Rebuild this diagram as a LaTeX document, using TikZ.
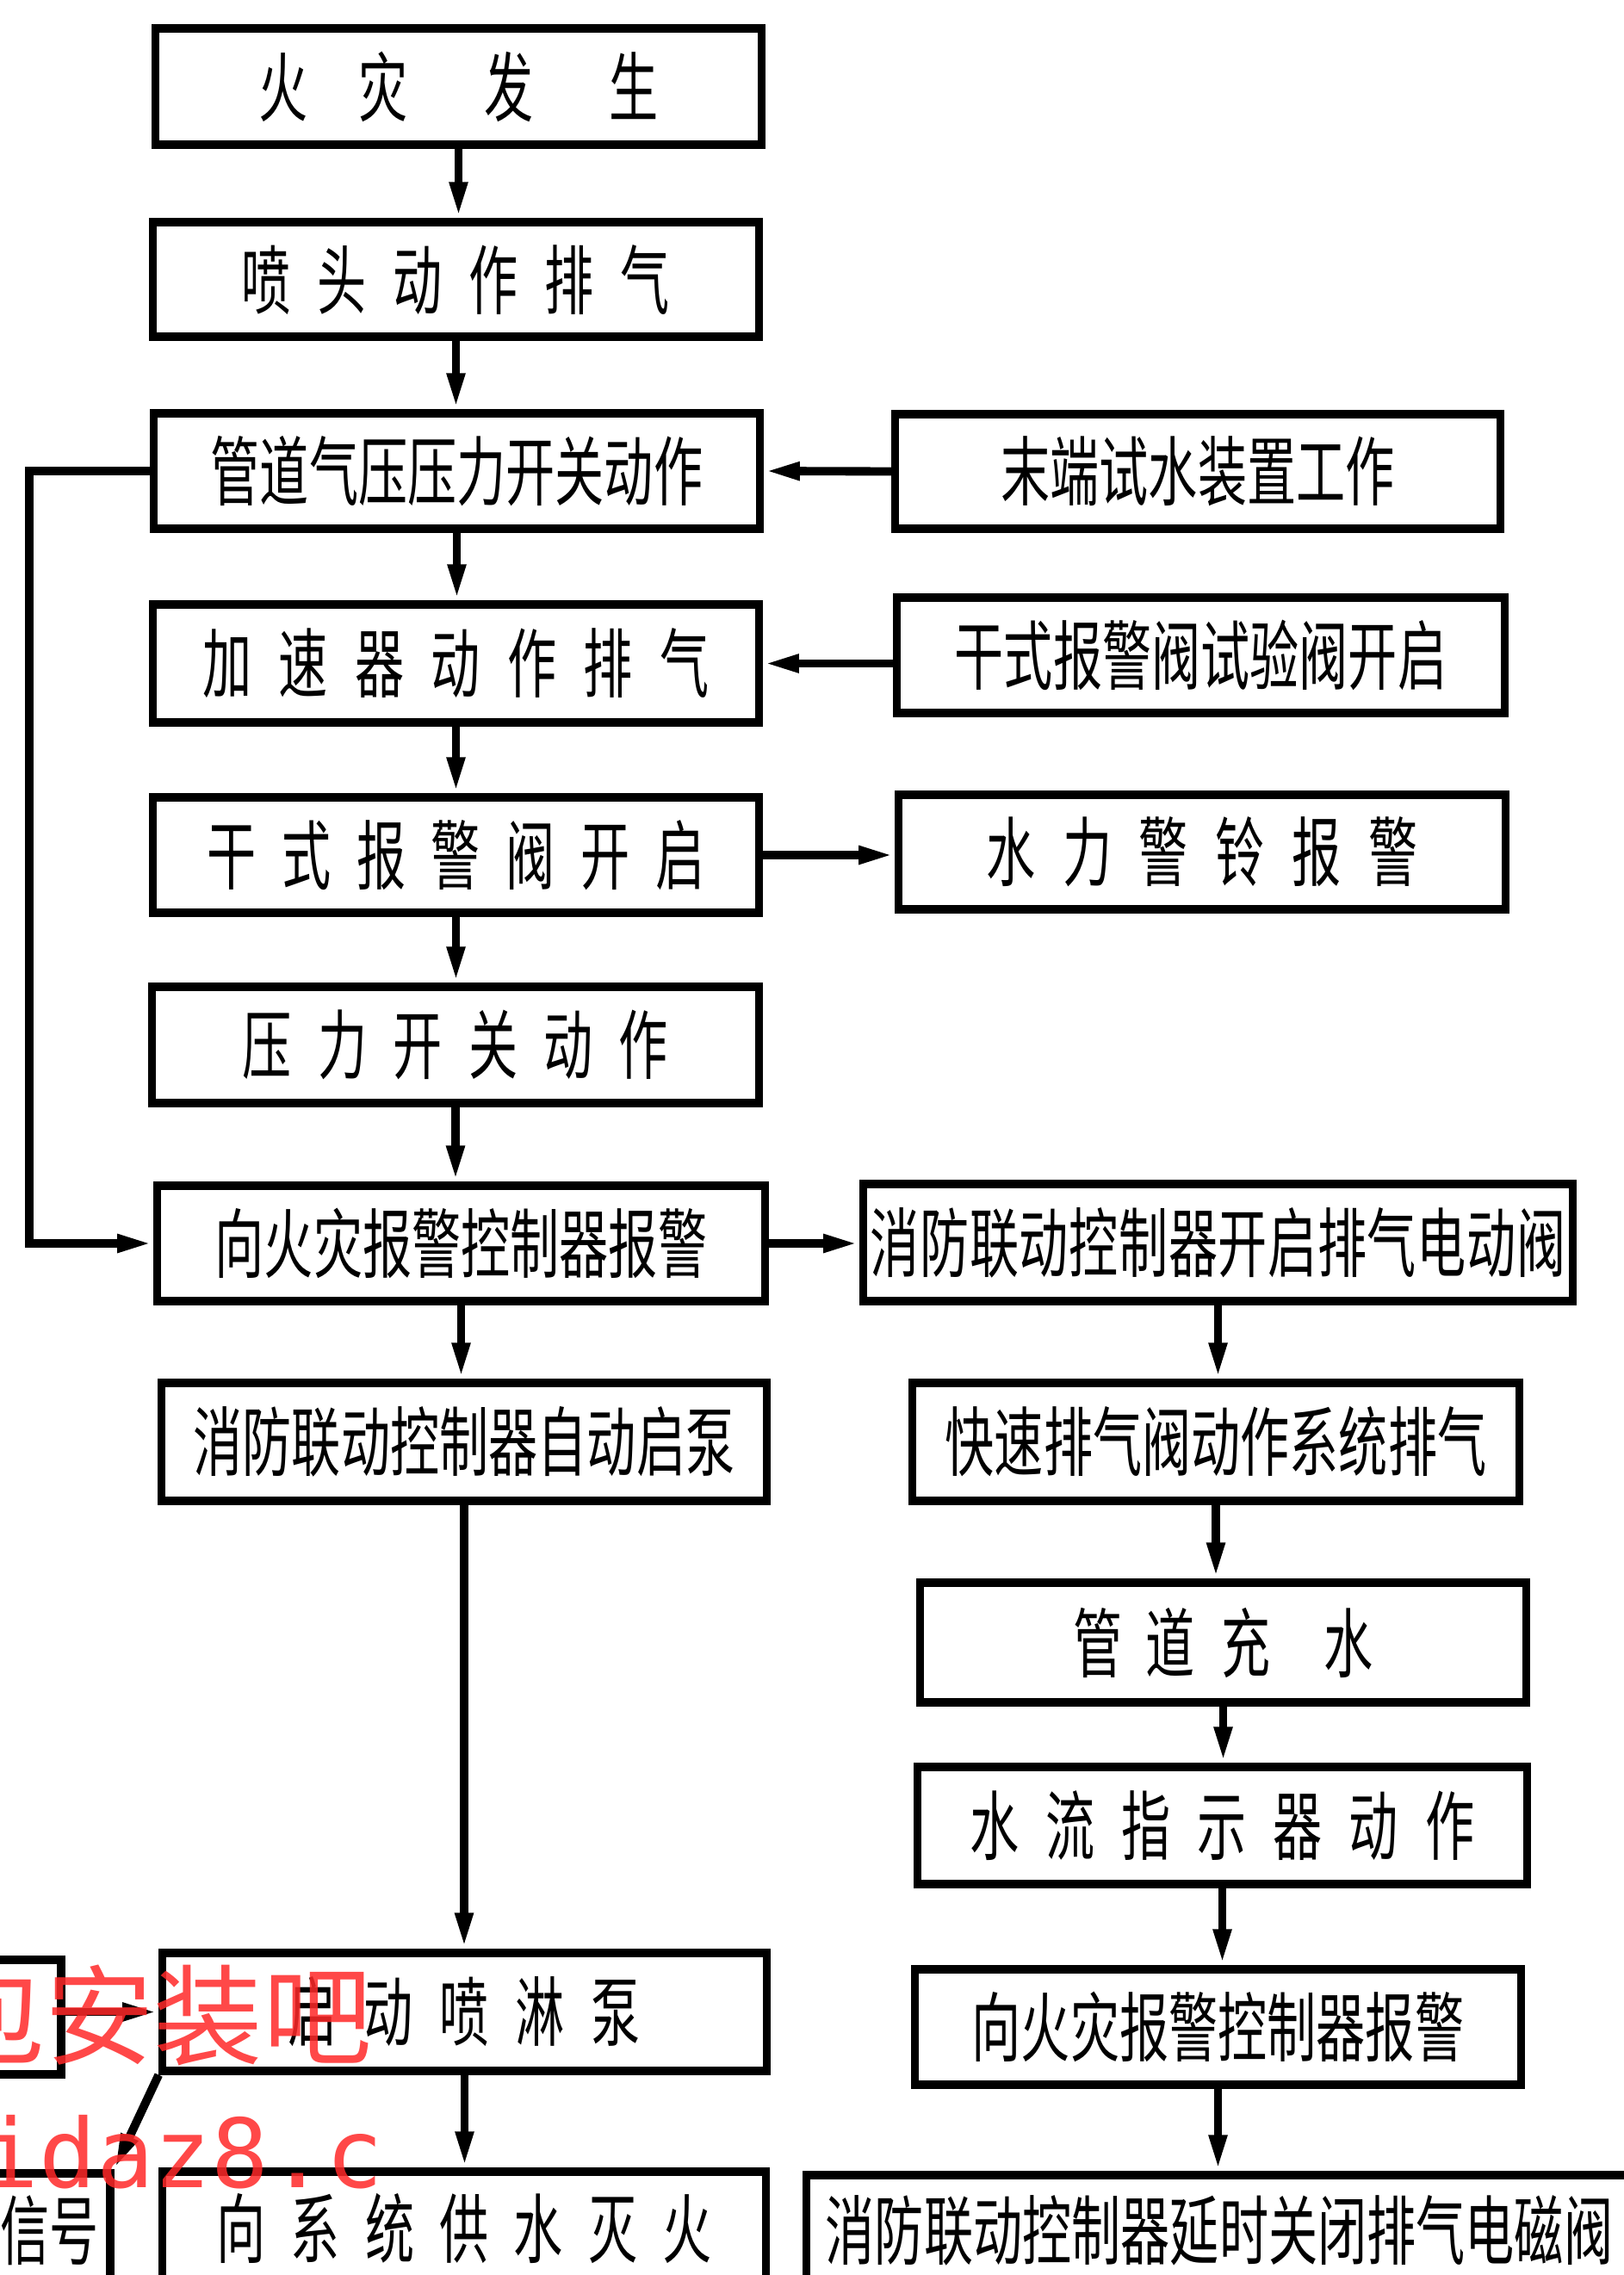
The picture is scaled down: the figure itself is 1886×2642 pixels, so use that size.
\documentclass[tikz,border=0pt]{standalone}
\usepackage{fontspec}
\usetikzlibrary{arrows.meta}
\newfontfamily\cn[FakeStretch=0.65]{Noto Sans CJK SC}
\newfontfamily\wmcn{Noto Sans CJK SC}
\newfontfamily\wmmono{DejaVu Sans Mono}
\definecolor{wmred}{RGB}{255,40,40}
\def\spl#1{\ifx\relax#1\else #1\expandafter\splb\fi}
\def\splb#1{\ifx\relax#1\else\hfill#1\expandafter\splb\fi}
\newcommand\spreadtext[2]{\makebox[#1]{\spl#2\relax}}
\tikzset{
  box/.style={draw, line width=2.6pt, inner sep=0pt, font={\cn\fontsize{25pt}{30pt}\selectfont}},
  conn/.style={line width=2.8pt, -{Triangle[length=4.2mm,width=1.9mm]}},
  wmark/.style={inner sep=0pt, text=wmred, text opacity=0.85},
}
\begin{document}
\begin{tikzpicture}[x=0.01cm,y=-0.01cm]
\useasboundingbox (0,0) rectangle (1886,2642);
\clip (0,0) rectangle (1886,2642);
% boxes
\node[box, minimum width=7.03cm, minimum height=1.35cm] (b1) at (532.5,100.5) {火\hspace{0.59cm}灾\hspace{0.89cm}发\hspace{0.88cm}生};
\node[box, minimum width=7.03cm, minimum height=1.33cm] (b2) at (529.5,324.5) {\spreadtext{4.97cm}{喷头动作排气}};
\node[box, minimum width=7.03cm, minimum height=1.34cm] (b3) at (530.5,547) {管道气压压力开关动作};
\node[box, minimum width=7.02cm, minimum height=1.33cm] (b4) at (1391,547.5) {末端试水装置工作};
\node[box, minimum width=7.03cm, minimum height=1.37cm] (b5) at (529.5,770.5) {\spreadtext{5.88cm}{加速器动作排气}};
\node[box, minimum width=7.05cm, minimum height=1.34cm] (b6) at (1394.5,761) {干式报警阀试验阀开启};
\node[box, minimum width=7.03cm, minimum height=1.34cm] (b7) at (529.5,993) {\spreadtext{5.78cm}{干式报警阀开启}};
\node[box, minimum width=7.04cm, minimum height=1.33cm] (b8) at (1396,989.5) {\spreadtext{5.01cm}{水力警铃报警}};
\node[box, minimum width=7.04cm, minimum height=1.35cm] (b9) at (529,1213.5) {\spreadtext{4.94cm}{压力开关动作}};
\node[box, minimum width=7.05cm, minimum height=1.34cm] (b10) at (535.5,1444) {向火灾报警控制器报警};
\node[box, minimum width=8.23cm, minimum height=1.36cm] (b11) at (1414.5,1443) {\spreadtext{8.07cm}{消防联动控制器开启排气电动阀}};
\node[box, minimum width=7.02cm, minimum height=1.37cm] (b12) at (539,1674.5) {消防联动控制器自动启泵};
\node[box, minimum width=7.04cm, minimum height=1.37cm] (b13) at (1412,1674.5) {快速排气阀动作系统排气};
\node[box, minimum width=7.03cm, minimum height=1.39cm] (b14) at (1420.5,1907.5) {管\hspace{0.27cm}道\hspace{0.31cm}充\hspace{0.62cm}水};
\node[box, minimum width=7.07cm, minimum height=1.36cm] (b15) at (1419.5,2120) {\spreadtext{5.85cm}{水流指示器动作}};
\node[box, minimum width=7.03cm, minimum height=1.34cm] (b16) at (1414.5,2354) {向火灾报警控制器报警};
\node[box, minimum width=9.58cm, minimum height=1.28cm] (b17) at (1416,2590) {消防联动控制器延时关闭排气电磁阀};
\node[box, minimum width=7.01cm, minimum height=1.37cm] (b18) at (539.5,2336.5) {\spreadtext{4.09cm}{启动喷淋泵}};
\node[box, minimum width=7.00cm, minimum height=1.32cm] (b19) at (539,2588) {\spreadtext{5.75cm}{向系统供水灭火}};
\node[box, minimum width=1.51cm, minimum height=1.33cm] (b20) at (-4.5,2342.5) {};
\node[box, minimum width=2.28cm, minimum height=1.32cm] (b21) at (14,2590) {};
\node[inner sep=0pt, font={\cn\fontsize{25pt}{30pt}\selectfont}] (t21) at (58,2590) {信号};
% connectors
\draw[conn] (b1.south) -- (b1.south |- b2.north);
\draw[conn] (b2.south) -- (b2.south |- b3.north);
\draw[conn] (b3.south) -- (b3.south |- b5.north);
\draw[conn] (b5.south) -- (b5.south |- b7.north);
\draw[conn] (b7.south) -- (b7.south |- b9.north);
\draw[conn] (b9.south) -- (b9.south |- b10.north);
\draw[conn] (b10.south) -- (b10.south |- b12.north);
\draw[conn] (b12.south) -- (b12.south |- b18.north);
\draw[conn] (b18.south) -- (b18.south |- b19.north);
\draw[conn] (b4.west) -- (b3.east);
\draw[conn] (b5.east -| b6.west) -- (b5.east);
\draw[conn] (b7.east) -- (b7.east -| b8.west);
\draw[conn] (b3.west) -- ++(-140,0) |- (b10.west);
\draw[conn] (b10.east) -- (b10.east -| b11.west);
\draw[conn] (b11.south) -- (b11.south |- b13.north);
\draw[conn] (b13.south) -- (b13.south |- b14.north);
\draw[conn] (b14.south) -- (b14.south |- b15.north);
\draw[conn] (b15.south) -- (b15.south |- b16.north);
\draw[conn] (b16.south) -- (b16.south |- b17.north);
\draw[conn] (b18.west -| b20.east) -- (b18.west);
\draw[conn] (b18.south west) -- (b21.north east);
% watermark
\node[wmark, anchor=west, font={\wmcn\fontsize{36pt}{40pt}\selectfont}] (wm1) at (-75,2340) {包安装吧};
\node[wmark, anchor=base west, font={\wmmono\fontsize{31.5pt}{34pt}\selectfont}] (wm2) at (-22,2540) {idaz8.c};
\end{tikzpicture}
\end{document}
